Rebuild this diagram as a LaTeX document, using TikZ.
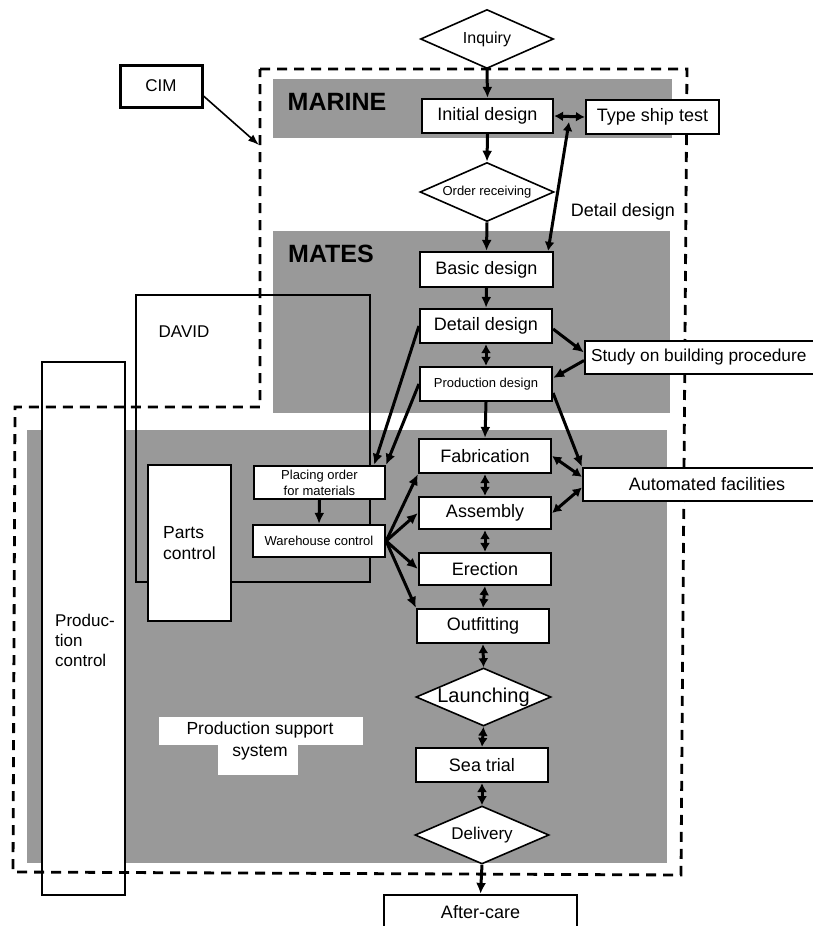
\documentclass[tikz,border=0pt]{standalone}
\usepackage{fontspec}
\setmainfont{Liberation Sans}
\usetikzlibrary{shapes.geometric,arrows.meta}
\begin{document}
\begin{tikzpicture}[x=1pt,y=-1pt,
  graybg/.style={fill=black!40},
  box/.style={draw, fill=white, line width=2.2pt, inner sep=0pt, font=\fontsize{18}{21}\selectfont},
  sbox/.style={box, font=\fontsize{13}{16}\selectfont},
  thinbox/.style={draw, fill=white, line width=1.3pt, inner sep=0pt},
  dia/.style={draw, fill=white, diamond, line width=1.6pt, inner sep=0pt, font=\fontsize{18}{21}\selectfont},
  arr/.style={line width=3pt, -{Latex[length=11pt,width=10pt]}},
  darr/.style={line width=3pt, {Latex[length=9pt,width=10pt]}-{Latex[length=9pt,width=10pt]}},
  thinarr/.style={line width=1.6pt, -{Latex[length=11pt,width=8pt]}},
  dashline/.style={line width=2.8pt, dash pattern=on 10pt off 7pt},
  big/.style={font=\bfseries\fontsize{25}{28}\selectfont},
  lab/.style={font=\fontsize{18}{21}\selectfont}
]
\useasboundingbox (0,0) rectangle (813,926);

% gray regions
\fill[graybg] (273,79) rectangle (672,138);
\fill[graybg] (273,231) rectangle (670,413);
\fill[graybg] (27,430) rectangle (667,863);

% DAVID region
\draw[line width=1.3pt] (136,295) rectangle (370,582);
\node[lab, font=\fontsize{17}{20}\selectfont] (davidlab) at (184,332) {DAVID};

% Production control
\node[thinbox, minimum width=83pt, minimum height=533pt] (prodctl) at (83.5,628.5) {};
\node[align=left, font=\fontsize{17}{20}\selectfont] (prodctltxt) at (85,640) {Produc-\\tion\\control};

% Production support system
\fill[white] (159,717) rectangle (363,745);
\fill[white] (218,745) rectangle (298,775);
\node[align=center, font=\fontsize{17.5}{22}\selectfont] (pss) at (260,741) {Production support\\system};

% dashed outline
\draw[dashline] (260,69) -- (687,69) -- (681,875) -- (13,872) -- (15,407) -- (260,407) -- cycle;

% labels
\node[big] (marine) at (337,102) {MARINE};
\node[big] (mates) at (331,254) {MATES};
\node[lab] (detlab) at (623,212) {Detail design};

% CIM
\node[box, line width=3pt, minimum width=82pt, minimum height=42pt, font=\fontsize{17}{20}\selectfont] (cim) at (161,86) {CIM};
\coordinate (cimend) at (259,145);

% main column
\node[dia, minimum width=133pt, minimum height=59pt, font=\fontsize{16}{19}\selectfont] (inq) at (487,39) {\makebox[0pt]{Inquiry}};
\node[box, minimum width=131pt, minimum height=34pt] (init) at (487.5,116) {Initial design};
\node[box, minimum width=133pt, minimum height=34pt] (tst) at (652.5,117) {Type ship test};
\node[dia, minimum width=134pt, minimum height=59pt, font=\fontsize{13}{16}\selectfont] (ord) at (487,192) {\makebox[0pt]{Order receiving}};
\node[box, minimum width=133pt, minimum height=35pt] (basic) at (486.5,269.5) {Basic design};
\node[box, minimum width=132pt, minimum height=34pt] (detail) at (486,326) {Detail design};
\node[sbox, minimum width=132pt, minimum height=34pt] (prod) at (486,384) {Production design};
\node[box, minimum width=132pt, minimum height=34pt] (fab) at (485,456) {Fabrication};
\node[box, minimum width=132pt, minimum height=32pt] (asm) at (485,513) {Assembly};
\node[box, minimum width=132pt, minimum height=32pt] (ere) at (485,569) {Erection};
\node[box, minimum width=132pt, minimum height=34pt] (out) at (483,626) {Outfitting};
\node[dia, minimum width=135pt, minimum height=58pt, font=\fontsize{20}{23}\selectfont] (lau) at (483.5,697) {\makebox[0pt]{Launching}};
\node[box, minimum width=132pt, minimum height=34pt] (sea) at (482,765) {Sea trial};
\node[dia, minimum width=134pt, minimum height=58pt, font=\fontsize{17}{20}\selectfont] (del) at (482,835) {\makebox[0pt]{Delivery}};
\node[box, minimum width=193pt, minimum height=34pt] (after) at (480.5,912) {After-care};

% right boxes
\node[box, anchor=west, inner xsep=6pt, minimum height=33pt, font=\fontsize{17.3}{20}\selectfont] (study) at (584,357.5) {\makebox[236pt][l]{Study on building procedure}};
\node[box, minimum width=248pt, minimum height=33pt] (auto) at (707,484.5) {Automated facilities};

% left boxes
\node[box, align=left, minimum width=83pt, minimum height=156pt, font=\fontsize{17.5}{21}\selectfont] (parts) at (189.5,543) {Parts\\control};
\node[sbox, align=center, minimum width=131pt, minimum height=33pt, font=\fontsize{13}{16}\selectfont] (place) at (319.5,482.5) {Placing order\\for materials};
\node[sbox, minimum width=132pt, minimum height=32pt] (ware) at (319,541) {Warehouse control};

% connectors
\draw[thinarr] ([yshift=-10pt]cim.east) -- (cimend);
\draw[arr] (inq.south) -- (init.north);
\draw[arr] (init.south) -- (ord.north);
\draw[arr] (ord.south) -- (basic.north);
\draw[arr] (basic.south) -- (detail.north);
\draw[darr] (detail.south) -- (prod.north);
\draw[arr] (prod.south) -- (fab.north);
\draw[darr] (fab.south) -- (asm.north);
\draw[darr] (asm.south) -- (ere.north);
\draw[darr] (ere.south) -- (out.north);
\draw[darr] (out.south) -- (lau.north);
\draw[darr] (lau.south) -- (sea.north);
\draw[darr] (sea.south) -- (del.north);
\draw[arr] (del.south) -- (after.north);

\draw[darr] (init.east) -- (tst.west);
\coordinate (tsm) at (569,122);
\draw[darr] (tsm) -- ([xshift=-6pt]basic.north east);

\draw[arr] ([yshift=-3pt]detail.east) -- ([yshift=5pt]study.west);
\draw[arr] ([yshift=-3pt]study.west) -- ([yshift=6pt]prod.east);
\draw[arr] ([yshift=-9pt]prod.east) -- (auto.north west);
\draw[darr] (fab.east) -- ([yshift=-10pt]auto.north west);
\draw[darr] (asm.east) -- ([yshift=-3pt]auto.west);

\draw[arr] (detail.west) -- ([xshift=-12pt]place.north east);
\draw[arr] (prod.west) -- (place.north east);
\draw[arr] (place.south) -- (ware.north);

\draw[arr] (ware.east) -- (fab.south west);
\draw[arr] (ware.east) -- (asm.west);
\draw[arr] (ware.east) -- (ere.west);
\draw[arr] (ware.east) -- (out.north west);
\end{tikzpicture}
\end{document}
